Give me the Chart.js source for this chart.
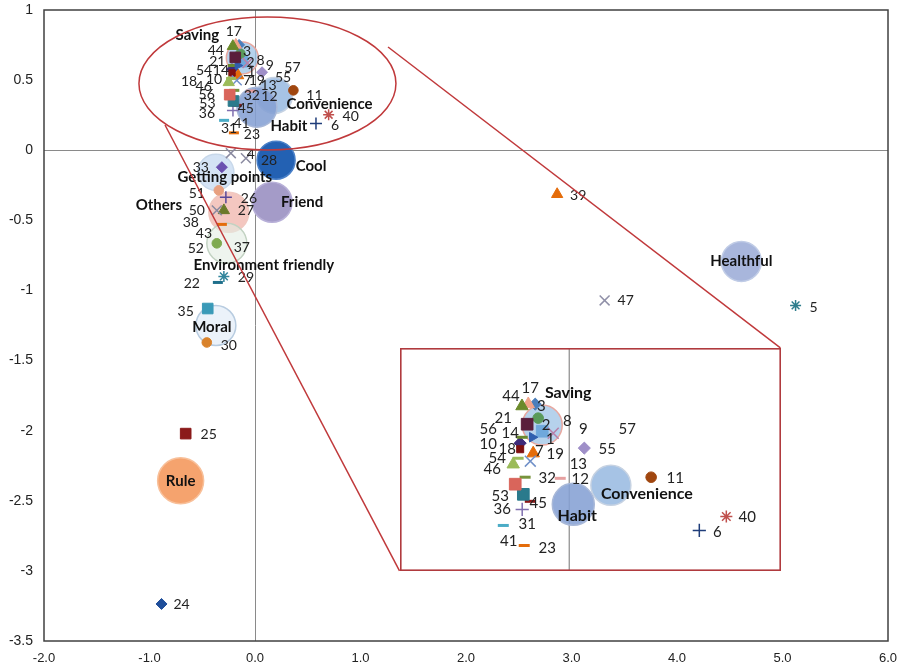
<!DOCTYPE html>
<html><head><meta charset="utf-8">
<script src="https://cdn.jsdelivr.net/npm/chart.js@4.4.1/dist/chart.umd.min.js"></script>
<style>
html,body{margin:0;padding:0;background:#fff;}
#wrap{position:relative;width:911px;height:670px;overflow:hidden;}
#main{position:absolute;left:0;top:0;}
#inset{position:absolute;}
</style></head><body>
<div id="wrap"><canvas id="main" width="911" height="670"></canvas><canvas id="inset" width="10" height="10"></canvas></div>
<script>
// ---------- DATA ----------
const pointIds = ['1','2','3','4','5','6','7','8','9','10','11','12','13','14','','','17','18','19','21','22','23','24','25','26','27','28','29','30','31','32','33','35','36','37','38','39','40','41','43','44','45','46','47','','50','51','52','53','54','55','56','57'];
const pointX = [-0.12,-0.138,-0.151,-0.086,5.124,0.578,-0.16,-0.071,0.018,-0.218,0.364,0.004,-0.004,-0.209,-0.164,-0.196,-0.182,-0.218,-0.173,-0.187,-0.352,-0.2,-0.886,-0.657,-0.276,-0.295,0.057,-0.295,-0.457,-0.293,-0.04,-0.314,-0.448,-0.209,-0.267,-0.314,2.864,0.698,-0.26,-0.295,-0.21,-0.173,-0.249,3.314,-0.229,-0.362,-0.343,-0.362,-0.204,-0.227,0.067,-0.24,0.213];
const pointY = [0.631,0.689,0.751,-0.057,-1.107,0.191,0.533,0.622,0.64,0.578,0.427,0.418,0.484,0.604,0.604,0.427,0.751,0.551,0.498,0.662,-0.943,0.124,-3.236,-2.021,-0.336,-0.429,-0.071,-0.9,-1.371,0.213,0.422,-0.121,-1.129,0.284,-0.693,-0.529,-0.314,0.253,0.142,-0.593,0.742,0.32,0.484,-1.071,-0.021,-0.429,-0.286,-0.664,0.351,0.511,0.556,0.396,0.64];

const bubbleNames = ['Saving','Convenience','Habit','Cool','Friend','Getting points','Others','Environment friendly','Moral','Rule','Healthful'];
const bubbleX = [-0.12,0.185,0.018,0.2,0.162,-0.371,-0.248,-0.267,-0.371,-0.705,4.61];
const bubbleY = [0.658,0.391,0.307,-0.071,-0.371,-0.157,-0.443,-0.664,-1.25,-2.357,-0.793];

const xTickLabels = ['-2.0','-1.0','0.0','1.0','2.0','3.0','4.0','5.0','6.0'];

// ---------- STYLES / LAYOUT ----------
const markerStyle = [
 ['rect','#6fa8dc'],['circle','#5a9a5a'],['rectRot','#4a7ebb'],['crossRot','#8a8aa0'],['star','#2e7d8c'],
 ['cross','#1f3d7a'],['triangle','#e46c0a'],['crossRot','#b87fa8'],['none',''],['rectRot','#3d2a7a'],
 ['circle','#a0460f'],['none',''],['none',''],['line','#6a8a30'],['arrow','#2f5faf'],
 ['line','#77933c'],['triangle','#f2a48a'],['rectS','#7f1010'],['crossRot','#7090c8'],['rect','#5a1e3c'],
 ['line','#1f6f8b'],['line','#e46c0a'],['rectRot','#1f4e9a'],['rect','#8b1a1a'],['cross','#5a4a9a'],
 ['triangle','#6b7a2a'],['none',''],['star','#31859c'],['circle','#d9822b'],['line','#4bacc6'],
 ['line','#e6a0a0'],['rectRot','#6a50b0'],['rect','#3a9ab8'],['cross','#8070b0'],['none',''],
 ['line','#e46c0a'],['triangle','#e46c0a'],['star','#c0504d'],['none',''],['none',''],
 ['triangle','#6b8a2a'],['line','#8b1a1a'],['triangle','#9bbb59'],['crossRot','#9090a8'],['crossRot','#8a8aa0'],
 ['crossRot','#8a8aa0'],['circle','#e8a080'],['circle','#7faa50'],['rect','#2a7a8c'],['line','#9bbb59'],
 ['rectRot','#9f8fc8'],['rect','#d9655b'],['none','']
];
const mainLabelOffset = [
 [9,10],[10,9],[8,7],[5,-4],[18,2],[19,2],[9,5],[13,-3],[13,5],[-18,10],
 [21,5],[14,5],[14,3],[-12,5],[0,0],[0,0],[-2,-13],[-43,9],[20,0],[-18,4],
 [-26,1],[18,2],[20,1],[23,1],[23,1],[22,0],[8,0],[22,1],[22,3],[5,8],
 [1,4],[-21,0],[-22,3],[-26,3],[15,0],[-31,-2],[21,1],[22,2],[14,-7],[-20,0],
 [-17,4],[9,3],[-25,4],[21,0],[0,0],[-20,0],[-22,3],[-21,5],[-26,2],[-27,-8],
 [21,5],[-23,0],[15,7]
];
const insetLabelOffset = [
 [8,8],[8,7],[6,2],null,null,[18,2],[6,-2],[14,-12],[10,0],[-32,1],
 [24,1],[10,0],[10,0],[-12,-4],null,null,[2,-16],[-13,0],[25,-7],[-24,-6],
 null,[23,3],null,null,null,null,null,null,null,[24,-1],
 [-13,0],null,null,[-20,0],null,null,null,[21,1],[-2,0],null,
 [-11,-10],[8,2],[-21,5],null,null,null,null,null,[-23,2],[-21,0],
 [23,1],[-27,-55],[10,0]
];
const bubbleFill = ['rgba(157,195,230,0.75)','rgba(150,184,225,0.85)','rgba(133,160,212,0.88)','#2361b3','#a49bc8','rgba(197,217,241,0.75)','rgba(240,178,168,0.72)','rgba(226,236,226,0.6)','rgba(222,233,246,0.6)','#f5a36e','#a8b6dc'];
const bubbleBorder = ['#e8a8a0','#c6d2e2','#a8b8d8','#4a80c8','#b8b0d8','#c8d8ea','#f0c8c0','#c2d2c2','#b8cce0','#f8c09a','#c0cce6'];
const bubbleRadiusMain = [16,18,20,19,20,18,20,20,20,23,20];
const bubbleRadiusInset = [20,20,21,0,0,0,0,0,0,0,0];
const mainBubbleOffset = [[-45,-23],[55,9],[32,19],[35,6],[30,0],[9,5],[-70,-7],[37,22],[-4,2],[0,0],[0,0]];
const insetBubbleOffset = [[26,-32],[36,9],[4,12],null,null,null,null,null,null,null,null];

const zoomEllipse = {cx:0.118, cy:0.476, rx:1.218, ry:0.474};
const insetBox = {x0:1.37, x1:4.98, y0:-1.41, y1:-3.0};
const connectorStarts = [[-0.853,0.18],[1.261,0.736]];
const insetRange = {xMin:-0.752, xMax:0.941, yMin:0.011, yMax:1.0};

const PS = {rect:'rect',rectS:'rect',circle:'circle',rectRot:'rectRot',triangle:'triangle',line:'line',cross:'cross',crossRot:'crossRot',star:'star',arrow:'triangle',none:'circle'};
const RAD = {rect:7.5,rectS:4.5,circle:4.8,rectRot:5.5,triangle:6.5,line:5,cross:6,crossRot:7,star:5.5,arrow:5,none:0};
const BW = {rect:1,rectS:1,circle:1,rectRot:1,triangle:1,line:3,cross:1.5,crossRot:1.5,star:1.5,arrow:1,none:0};

function markerDataset(view){
  const k = view==='main' ? 1 : 1.1;
  return {
    label:'items',
    data: pointX.map((x,i)=>({x:x, y:pointY[i]})),
    pointLabels: pointIds,
    labelOffsets: view==='main' ? mainLabelOffset : insetLabelOffset.map((o,i)=>o||mainLabelOffset[i]),
    labelFont: view==='main' ? '14px Lato' : '15px Lato',
    labelColor: '#222',
    pointStyle: c => PS[markerStyle[c.dataIndex][0]],
    pointRadius: c => RAD[markerStyle[c.dataIndex][0]]*k,
    pointHoverRadius: c => RAD[markerStyle[c.dataIndex][0]]*k,
    pointRotation: c => markerStyle[c.dataIndex][0]==='arrow' ? 90 : 0,
    pointBackgroundColor: c => markerStyle[c.dataIndex][1] || 'rgba(0,0,0,0)',
    pointBorderColor: c => markerStyle[c.dataIndex][1] || 'rgba(0,0,0,0)',
    pointBorderWidth: c => BW[markerStyle[c.dataIndex][0]],
    order: 0
  };
}
function bubbleDataset(view){
  return {
    label:'concepts',
    data: bubbleX.map((x,i)=>({x:x, y:bubbleY[i]})),
    pointLabels: bubbleNames,
    labelOffsets: view==='main' ? mainBubbleOffset : insetBubbleOffset.map((o,i)=>o||mainBubbleOffset[i]),
    labelFont: view==='main' ? 'bold 15px Lato' : 'bold 16px Lato',
    labelColor: '#111',
    pointStyle:'circle',
    pointRadius: c => (view==='main' ? bubbleRadiusMain : bubbleRadiusInset)[c.dataIndex],
    pointHoverRadius: c => (view==='main' ? bubbleRadiusMain : bubbleRadiusInset)[c.dataIndex],
    pointBackgroundColor: c => bubbleFill[c.dataIndex],
    pointBorderColor: c => bubbleBorder[c.dataIndex],
    pointBorderWidth: 1.5,
    order: 1
  };
}

const labelPlugin = {
  id:'pointText',
  afterDatasetsDraw(chart){
    const ctx = chart.ctx, a = chart.chartArea;
    ctx.save();
    ctx.textAlign='center'; ctx.textBaseline='middle';
    chart.data.datasets.forEach((ds, di)=>{
      const meta = chart.getDatasetMeta(di);
      meta.data.forEach((el, i)=>{
        const t = ds.pointLabels[i];
        if(!t) return;
        if(el.x < a.left-1 || el.x > a.right+1 || el.y < a.top-1 || el.y > a.bottom+1) return;
        const o = ds.labelOffsets[i] || [0,0];
        ctx.font = ds.labelFont; ctx.fillStyle = ds.labelColor;
        ctx.fillText(t, el.x+o[0], el.y+o[1]);
      });
    });
    ctx.restore();
  }
};

const framePlugin = {
  id:'frame',
  afterDraw(chart){
    const ctx = chart.ctx, a = chart.chartArea, x = chart.scales.x, y = chart.scales.y;
    ctx.save();
    ctx.strokeStyle='#404040'; ctx.lineWidth=1.5;
    ctx.strokeRect(a.left, a.top, a.right-a.left, a.bottom-a.top);
    ctx.strokeStyle='#c0393b'; ctx.lineWidth=1.5;
    const cx = x.getPixelForValue(zoomEllipse.cx), cy = y.getPixelForValue(zoomEllipse.cy);
    const rx = x.getPixelForValue(zoomEllipse.cx+zoomEllipse.rx)-cx;
    const ry = cy - y.getPixelForValue(zoomEllipse.cy+zoomEllipse.ry);
    ctx.beginPath(); ctx.ellipse(cx, cy, rx, ry, 0, 0, Math.PI*2); ctx.stroke();
    const ends = [[insetBox.x0, insetBox.y1],[insetBox.x1, insetBox.y0]];
    connectorStarts.forEach((s,i)=>{
      ctx.beginPath();
      ctx.moveTo(x.getPixelForValue(s[0]), y.getPixelForValue(s[1]));
      ctx.lineTo(x.getPixelForValue(ends[i][0]), y.getPixelForValue(ends[i][1]));
      ctx.stroke();
    });
    ctx.restore();
  }
};

const mainChart = new Chart(document.getElementById('main'), {
  type:'scatter',
  data:{datasets:[markerDataset('main'), bubbleDataset('main')]},
  options:{
    responsive:false, animation:false, events:[],
    layout:{autoPadding:false, padding:{top:10, right:23, left:0, bottom:0}},
    plugins:{legend:{display:false}, tooltip:{enabled:false}},
    scales:{
      x:{type:'linear', min:-2, max:6,
        afterFit(s){ s.height = 29; s.paddingLeft = 0; s.paddingRight = 0; },
        border:{display:false},
        grid:{drawTicks:false, lineWidth:1, color:c => (c.tick && c.tick.value===0) ? '#8a8a8a' : 'rgba(0,0,0,0)'},
        ticks:{stepSize:1, autoSkip:false, maxRotation:0, padding:10, color:'#222',
          font:{family:'Liberation Sans', size:13},
          callback:(v,i)=>xTickLabels[i]}
      },
      y:{type:'linear', min:-3.5, max:1,
        afterFit(s){ s.width = 44; s.paddingTop = 0; s.paddingBottom = 0; },
        border:{display:false},
        grid:{drawTicks:false, lineWidth:1, color:c => (c.tick && c.tick.value===0) ? '#8a8a8a' : 'rgba(0,0,0,0)'},
        ticks:{stepSize:0.5, padding:11, color:'#222',
          font:{family:'Liberation Sans', size:14},
          callback:v=>String(v)}
      }
    }
  },
  plugins:[labelPlugin, framePlugin]
});

// ---------- INSET ----------
const xs = mainChart.scales.x, ys = mainChart.scales.y;
const L = xs.getPixelForValue(insetBox.x0), R = xs.getPixelForValue(insetBox.x1);
const T = ys.getPixelForValue(insetBox.y0), B = ys.getPixelForValue(insetBox.y1);
const ic = document.getElementById('inset');
ic.width = Math.round(R-L); ic.height = Math.round(B-T);
ic.style.left = Math.round(L)+'px'; ic.style.top = Math.round(T)+'px';

const insetDeco = {
  id:'insetDeco',
  beforeDraw(chart){
    const ctx = chart.ctx;
    ctx.save(); ctx.fillStyle='#fff'; ctx.fillRect(0,0,chart.width,chart.height); ctx.restore();
  },
  beforeDatasetsDraw(chart){
    const ctx = chart.ctx, a = chart.chartArea, px = chart.scales.x.getPixelForValue(0);
    ctx.save(); ctx.strokeStyle='#8a8a8a'; ctx.lineWidth=1.2;
    ctx.beginPath(); ctx.moveTo(px, a.top); ctx.lineTo(px, a.bottom); ctx.stroke(); ctx.restore();
  },
  afterDraw(chart){
    const ctx = chart.ctx;
    ctx.save(); ctx.strokeStyle='#b03a3e'; ctx.lineWidth=1.6;
    ctx.strokeRect(0.8,0.8,chart.width-1.6,chart.height-1.6); ctx.restore();
  }
};

new Chart(ic, {
  type:'scatter',
  data:{datasets:[markerDataset('inset'), bubbleDataset('inset')]},
  options:{
    responsive:false, animation:false, events:[],
    layout:{autoPadding:false, padding:0},
    plugins:{legend:{display:false}, tooltip:{enabled:false}},
    scales:{
      x:{type:'linear', display:false, min:insetRange.xMin, max:insetRange.xMax},
      y:{type:'linear', display:false, min:insetRange.yMin, max:insetRange.yMax}
    }
  },
  plugins:[insetDeco, labelPlugin]
});
</script>
</body></html>
